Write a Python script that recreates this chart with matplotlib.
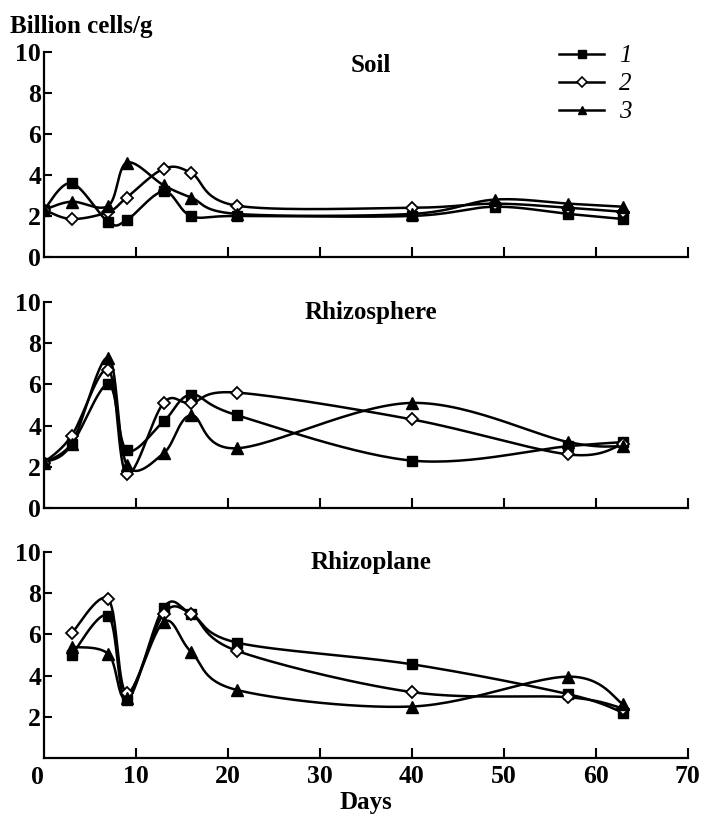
import numpy as np
import matplotlib
matplotlib.use("Agg")
import matplotlib.pyplot as plt

plt.rcParams["font.family"] = ["Liberation Serif", "DejaVu Serif"]
plt.rcParams["font.weight"] = "bold"
plt.rcParams["axes.labelweight"] = "bold"

# ── Data ──────────────────────────────────────────────────────
days      = [0, 3, 7, 9, 13, 16, 21, 40, 49, 57, 63]
days_rp   = [3, 7, 9, 13, 16, 21, 40, 57, 63]
days_rs   = [0, 3, 7, 9, 13, 16, 21, 40, 57, 63]

soil_1 = [2.3, 3.6, 1.7, 1.8, 3.2, 2.0, 2.0, 2.0, 2.45, 2.1, 1.85]
soil_2 = [2.3, 1.85, 2.2, 2.9, 4.3, 4.1, 2.5, 2.4, 2.6, 2.4, 2.2]
soil_3 = [2.3, 2.7, 2.5, 4.6, 3.5, 2.9, 2.1, 2.1, 2.8, 2.6, 2.45]

rs_1 = [2.2, 3.1, 6.0, 2.8, 4.2, 5.5, 4.5, 2.3, 3.0, 3.2]
rs_2 = [2.2, 3.5, 6.7, 1.65, 5.1, 5.1, 5.6, 4.3, 2.6, 3.1]
rs_3 = [2.2, 3.1, 7.3, 2.1, 2.65, 4.5, 2.9, 5.1, 3.2, 3.0]

rp_1 = [5.0, 6.9, 2.8, 7.3, 7.0, 5.6, 4.55, 3.1, 2.2]
rp_2 = [6.05, 7.7, 3.15, 7.0, 7.0, 5.2, 3.2, 2.95, 2.4]
rp_3 = [5.4, 5.05, 2.9, 6.6, 5.15, 3.3, 2.5, 3.95, 2.6]

series_labels = ["1", "2", "3"]
panel_titles  = ["Soil", "Rhizosphere", "Rhizoplane"]


def smooth(x, y, n=30):
    """Bezier smoothing through points (Excel-like Catmull-Rom)."""
    p = np.column_stack([x, y]).astype(float)
    p = np.vstack([p[0], p, p[-1]])
    out = []
    t = np.linspace(0, 1, n)[:, None]
    for i in range(1, len(p) - 2):
        p0, p3 = p[i], p[i + 1]
        c1 = p0 + (p[i + 1] - p[i - 1]) / 6
        c2 = p3 - (p[i + 2] - p[i]) / 6
        seg = ((1 - t) ** 3) * p0 + 3 * ((1 - t) ** 2) * t * c1 \
            + 3 * (1 - t) * t ** 2 * c2 + t ** 3 * p3
        out.append(seg)
    s = np.vstack(out)
    return s[:, 0], s[:, 1]


styles = [
    dict(marker="s", mfc="black", mec="black", ms=7),
    dict(marker="D", mfc="white", mec="black", ms=6.5, mew=1.3),
    dict(marker="^", mfc="black", mec="black", ms=8),
]
leg_styles = [
    dict(marker="s", mfc="black", mec="black", ms=5.5),
    dict(marker="D", mfc="white", mec="black", ms=5.5, mew=1.2),
    dict(marker="^", mfc="black", mec="black", ms=6),
]

fig = plt.figure(figsize=(7.06, 8.15), dpi=100)
left, width = 0.0623, 0.912
bottoms = [0.6847, 0.3767, 0.0699]
heights = [0.2515, 0.2528, 0.2528]

panels = [
    (days, [soil_1, soil_2, soil_3]),
    (days_rs, [rs_1, rs_2, rs_3]),
    (days_rp, [rp_1, rp_2, rp_3]),
]

for k, (xd, ys) in enumerate(panels):
    ax = fig.add_axes([left, bottoms[k], width, heights[k]])
    handles = []
    for j, yv in enumerate(ys):
        sx, sy = smooth(xd, yv)
        ax.plot(sx, sy, color="black", lw=1.8, zorder=2)
        ax.plot(xd, yv, ls="none", zorder=3, **styles[j])
        h, = ax.plot([], [], color="black", lw=1.8, **leg_styles[j])
        handles.append(h)

    ax.set_xlim(0, 70)
    ax.set_ylim(0, 10)
    ax.spines["top"].set_visible(False)
    ax.spines["right"].set_visible(False)
    for s in ("left", "bottom"):
        ax.spines[s].set_linewidth(1.6)
    ax.set_xticks(range(10, 71, 10))
    ax.tick_params(axis="x", direction="in", length=7, width=1.5,
                   labelsize=18.5, pad=5)
    ax.tick_params(axis="y", direction="in", length=6, width=1.5,
                   labelsize=18.5, pad=2)
    if k < 2:
        ax.set_yticks([0, 2, 4, 6, 8, 10])
        ax.set_xticklabels([])
    else:
        ax.set_yticks([2, 4, 6, 8, 10])
        ax.set_xticklabels([str(v) for v in range(10, 71, 10)])
        ax.set_xlabel("Days", fontsize=18, labelpad=2)
        ax.text(0, -0.4, "0", fontsize=18.5, ha="right", va="top")

    ax.text(35.5, 0.935 if k == 0 else 0.947, panel_titles[k], fontsize=18,
            ha="center", va="center", transform=ax.get_xaxis_transform())

    if k == 0:
        leg = ax.legend(handles, series_labels, loc="upper left",
                        bbox_to_anchor=(0.765, 1.145), frameon=False,
                        handlelength=1.8, handletextpad=0.6,
                        labelspacing=0.22,
                        prop=dict(size=18, style="italic", weight="normal"))

fig.text(0.014, 0.959, "Billion cells/g", fontsize=18, ha="left", va="baseline")

plt.savefig("out.png", dpi=100)
